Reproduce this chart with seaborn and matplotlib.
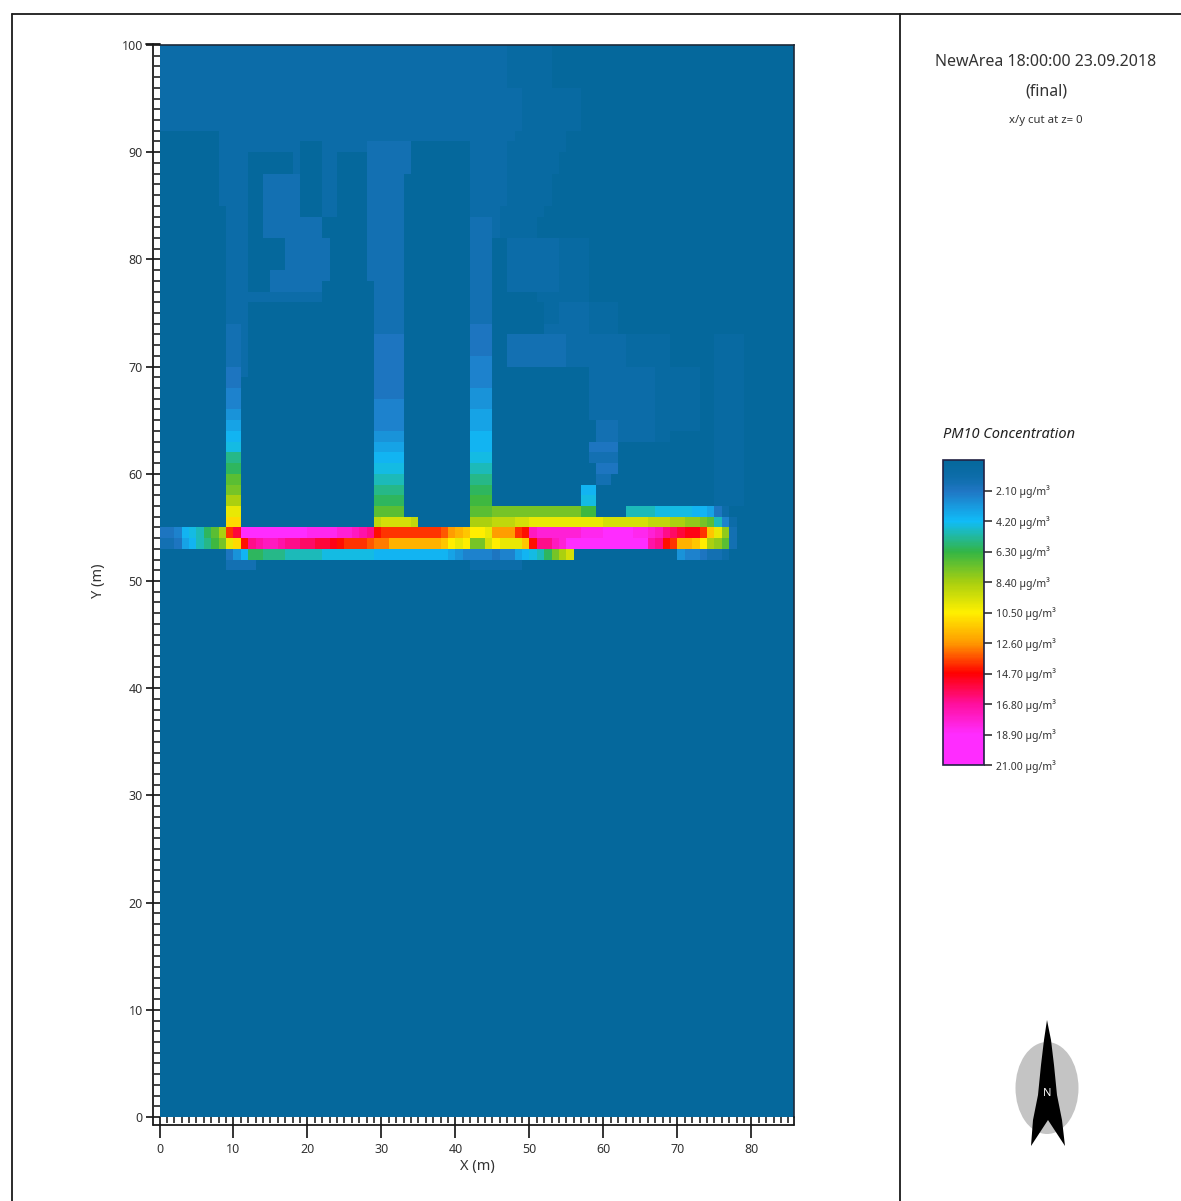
import numpy as np
import pandas as pd
import seaborn as sns
import matplotlib.pyplot as plt
from matplotlib.colors import LinearSegmentedColormap
from matplotlib.lines import Line2D
from matplotlib.patches import Ellipse, Polygon

sns.set_style('white')
plt.rcParams['font.family'] = ['Noto Sans', 'DejaVu Sans']

W, H = 1181, 1201
N_COLS = 86

# each character is one 1 m cell, value = index in ALPHABET * 0.5 ug/m3 (spaces only group columns by ten)
ALPHABET = '0123456789abcdefghijklmnopqrstuvwxyzABCDEFG'

# rows from y=99 down to y=0, short rows are background on the right
rows_top = (
    ['2222222222 2222222222 2222222222 2222222222 2222222111 1110000000'] * 4
    + ['2222222222 2222222222 2222222222 2222222222 2222222221 1111111000'] * 4
    + ['0000000022 2222222222 2222222222 2222222222 2222222211 1111100000']
    + ['0000000022 2222222220 0022222233 3333000000 0022222111 1111100000']
    + ['0000000022 2200000020 0022000033 3333000000 0022222111 1111000000'] * 2
    + ['0000000022 2200333330 0022000033 3330000000 0022222111 1110000000'] * 3
    + ['0000000002 2200333330 0022000033 3330000000 0022221111 1100000000']
    + ['0000000002 2200333333 3300000033 3330000000 0033321111 1000000000'] * 2
    + ['0000000002 2200000333 3330000033 3330000000 0033300222 2222111100'] * 3
    + ['0000000002 2200033333 3330000033 3330000000 0033300222 2222111100']
    + ['0000000002 2200033333 3300000003 3330000000 0033300222 2222111100']
    + ['0000000002 2222222222 2200000003 3330000000 0033300000 0111111100']
    + ['0000000002 2200000000 0000000003 3330000000 0033300000 0011222211 1100000000'] * 2
    + ['0000000003 3200000000 0000000003 3330000000 0044400000 0022222211 1100000000']
    + ['0000000003 3200000000 0000000004 4440000000 0044400333 3333322222 2221111110 0000011110'] * 2
    + ['0000000003 3200000000 0000000004 4440000000 0055500333 3333322222 2221111110 0000011110']
)
rows_plume = [
    '0000000004 4200000000 0000000004 4440000000 0055500000 0000000022 2222222111 1110011110',
    '0000000004 4000000000 0000000004 4440000000 0055500000 0000000022 2222222111 1110011110',
    '0000000005 5000000000 0000000004 4440000000 0066600000 0000000022 2222222111 1110011110',
    '0000000005 5000000000 0000000005 5550000000 0066600000 0000000022 2222222111 1110011110',
    '0000000006 6000000000 0000000005 5550000000 0077700000 0000000022 2222222111 1110011110',
    '0000000007 7000000000 0000000005 5550000000 0077700000 0000000003 3322222111 1110011110',
    '0000000008 8000000000 0000000006 6660000000 0088800000 0000000003 3322222110 0000011110',
    '0000000009 9000000000 0000000007 7770000000 0088800000 0000000044 4400000000 0000011110',
    '000000000b b000000000 0000000008 8880000000 0099900000 0000000033 3300000000 0000011110',
    '000000000c c000000000 0000000009 9990000000 00aaa00000 0000000004 4400000000 0000011110',
    '000000000e e000000000 000000000a aaa0000000 00bbb00000 0000000003 3000000000 0000011110',
    '000000000f f000000000 000000000b bbb0000000 00ccc00000 0000000880 0000000000 0000011110',
    '000000000h h000000000 000000000c ccc0000000 00ddd00000 0000000990 0000000000 0000011110',
    '000000000k k000000000 000000000e eee0000000 00eeefffff fffffffdd0 000aaaa999 9988742000',
    '000000000m m000000000 000000000i jjjji00000 00hhhiiijj kkkkkkkkkk jjjjjjiiih hggfea5200',
    '44589acehs vCCCCCCCCC BBBBAAzyxt ssssssssrp onllkpppst zAAAAAABBB CCCCBBAzxw vuusnkg300',
    '33478abdfk mtxyzzyxxw wvvutsssrq qooooooonl klffjlkkkn txxzACCCCC CCCCCCyxts oonlhge300',
    '0000000004 68ccbbbaaa aa99999998 8888888887 6555545578 9acfhj0000 0000000000 6554332000',
    '0000000003 3330000000 0000000000 0000000000 0022222220',
]
rows_bottom = ['0'] * 51

x_ticks = [0, 10, 20, 30, 40, 50, 60, 70, 80]
y_ticks = [100, 90, 80, 70, 60, 50, 40, 30, 20, 10, 0]
cbar_ticks = [2.1, 4.2, 6.3, 8.4, 10.5, 12.6, 14.7, 16.8, 18.9, 21.0]
cbar_stops = [0.0, 1.0, 1.5, 2.1, 4.2, 6.3, 8.4, 10.5, 12.6, 14.7, 16.8, 18.9, 21.0]
cbar_colors = ['#05689c', '#0c6ca8', '#1370b2', '#2076c4', '#10bcf8', '#33b545', '#a8cf10', '#fff000',
               '#ff9a00', '#ff0000', '#ff0f9c', '#ff2cff', '#ff2cff']

title_lines = ['NewArea 18:00:00 23.09.2018', '(final)']
subtitle = 'x/y cut at z= 0'
legend_title = 'PM10 Concentration'


def decode_row(row):
    row = row.replace(' ', '').ljust(N_COLS, '0')
    return [ALPHABET.index(c) * 0.5 for c in row]


def px_axes(fig, left, top, right, bottom):
    # axes rectangle given in image pixels
    return fig.add_axes([left / W, 1 - bottom / H, (right - left) / W, (bottom - top) / H])


data = pd.DataFrame([decode_row(r) for r in rows_top + rows_plume + rows_bottom])
cmap = LinearSegmentedColormap.from_list('pm10', [(s / 21.0, c) for s, c in zip(cbar_stops, cbar_colors)])

fig = plt.figure(figsize=(W / 100, H / 100), dpi=100, facecolor='white')
ax = px_axes(fig, 159.5, 45, 794.4, 1117)
cax = px_axes(fig, 943, 460, 984, 765)

sns.heatmap(data, ax=ax, cbar_ax=cax, cmap=cmap, vmin=0, vmax=21,
            xticklabels=False, yticklabels=False)

# Axis scales: one cell is 1 m
ax.set_xlim(0, 85.8)
ax.set_ylim(100, 0)
ax.set_xticks(x_ticks)
ax.set_xticklabels([str(v) for v in x_ticks])
ax.set_yticks([100 - v for v in y_ticks])
ax.set_yticklabels([str(v) for v in y_ticks], rotation=0)
ax.set_xticks(np.arange(0, 86), minor=True)
ax.set_yticks(np.arange(0, 101), minor=True)
ax.tick_params(which='major', axis='x', bottom=True, length=15, width=1.2, color='#111111',
               labelsize=9, pad=4, labelcolor='#333333')
ax.tick_params(which='major', axis='y', left=True, length=10, width=1.2, color='#111111',
               labelsize=9, pad=2, labelcolor='#333333')
ax.tick_params(which='minor', bottom=True, left=True, length=4, width=1.1, color='#111111')
ax.set_xlabel('X (m)', fontsize=10.5, color='#333333', labelpad=2)
ax.set_ylabel('Y (m)', fontsize=10.5, color='#333333', labelpad=11)
for name in ['top', 'right']:
    ax.spines[name].set_visible(True)
    ax.spines[name].set_color('#1c2a3a')
    ax.spines[name].set_linewidth(1.2)
for name in ['left', 'bottom']:
    ax.spines[name].set_visible(False)

# Colorbar, 0 on top
cbar = ax.collections[0].colorbar
cbar.set_ticks(cbar_ticks)
cbar.set_ticklabels([f'{v:.2f} µg/m³' for v in cbar_ticks])
cbar.ax.invert_yaxis()
cbar.ax.tick_params(right=True, length=6, width=1.1, color='#222222', labelsize=7.5,
                    pad=3, labelcolor='#333333')
cbar.outline.set_visible(True)
cbar.outline.set_edgecolor('#222244')
cbar.outline.set_linewidth(1.2)

# Frame, axis strip, texts and north arrow on an overlay in image pixels
over = fig.add_axes([0, 0, 1, 1], facecolor='none')
over.set_xlim(0, W)
over.set_ylim(H, 0)
over.axis('off')

frame = [([12, 12], [H, 14]), ([12, W], [14, 14]), ([900, 900], [14, H]),
         ([153, 153], [44, 1125]), ([153, 794], [1125, 1125]), ([794, 794], [1117, 1125]),
         ([146, 160], [44, 44])]
for xs, ys in frame:
    over.add_line(Line2D(xs, ys, color='#1a1a1a', lw=1.3))

over.text(1046, 62, title_lines[0], ha='center', va='center', fontsize=11.5, color='#333333')
over.text(1046, 92, title_lines[1], ha='center', va='center', fontsize=11.5, color='#333333')
over.text(1046, 120, subtitle, ha='center', va='center', fontsize=8.2, color='#333333')
over.text(943, 434, legend_title, ha='left', va='center', fontsize=10.5, color='#222222',
          style='italic', fontweight='bold')

over.add_patch(Ellipse((1047, 1088), 63, 92, facecolor='#c4c4c4', edgecolor='none'))
over.add_patch(Polygon([(1047, 1020), (1051, 1040), (1054, 1065), (1057, 1095), (1062, 1120), (1065, 1146),
                        (1048, 1120), (1031, 1146), (1033, 1120), (1038, 1095), (1041, 1065), (1044, 1040)],
                       closed=True, facecolor='black', edgecolor='none'))
over.text(1047, 1094, 'N', ha='center', va='center', fontsize=8, color='white', fontweight='bold')

fig.savefig('out.png', dpi=100)
